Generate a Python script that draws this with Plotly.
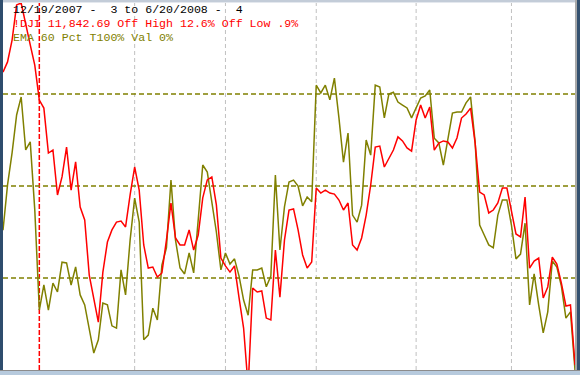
import pandas as pd
import plotly.graph_objects as go

# ---- data ----
holidays = ["2007-12-25", "2008-01-01", "2008-01-21", "2008-02-18", "2008-03-21", "2008-05-26"]
dates = [d for d in pd.bdate_range("2007-12-19", "2008-06-20") if d.strftime("%Y-%m-%d") not in holidays]

dji = [13225, 13273, 13376, 13542, 13551, 13447, 13353, 13258, 13093, 13055,
       12843, 12857, 12645, 12730, 12871, 12668, 12801, 12588, 12527, 12267,
       12163, 12045, 12281, 12423, 12480, 12517, 12522, 12494, 12645, 12777,
       12668, 12409, 12300, 12305, 12258, 12277, 12432, 12607, 12442, 12409,
       12409, 12480, 12385, 12456, 12631, 12716, 12730, 12598, 12347, 12310,
       12281, 12310, 12159, 12017, 11740, 12206, 12187, 12192, 12064, 12055,
       12385, 12163, 12432, 12574, 12579, 12480, 12362, 12300, 12329, 12678,
       12654, 12668, 12654, 12649, 12621, 12574, 12607, 12409, 12385, 12442,
       12550, 12692, 12871, 12876, 12777, 12819, 12857, 12919, 12900, 12867,
       12852, 12999, 13070, 13008, 13060, 12857, 12890, 12900, 12895, 12867,
       12914, 13008, 13027, 13055, 12890, 12659, 12645, 12560, 12574, 12607,
       12678, 12678, 12565, 12461, 12447, 12635, 12300, 12333, 12347, 12159,
       12211, 12352, 12319, 12229, 12121, 12126, 11842.69]

ema_pct = [38.0, 50.3, 59.0, 69.3, 74.2, 59.8, 62.0, 43.5, 16.3, 23.1,
           16.3, 23.6, 21.2, 29.3, 29.1, 23.1, 28.0, 20.4, 17.7, 11.4,
           4.6, 8.2, 18.2, 17.7, 12.0, 11.4, 27.2, 20.4, 35.3, 46.7,
           40.2, 8.2, 9.5, 16.8, 13.6, 28.5, 33.2, 51.6, 35.3, 27.7,
           26.1, 31.8, 26.4, 40.8, 55.7, 53.8, 46.2, 37.5, 27.2, 31.8,
           28.8, 30.2, 25.5, 19.0, 14.9, 27.2, 27.2, 27.7, 22.6, 25.5,
           53.0, 32.6, 44.3, 51.1, 51.6, 50.0, 44.6, 47.0, 45.7, 77.4,
           75.3, 77.4, 73.4, 79.3, 68.5, 56.5, 64.4, 42.1, 40.2, 44.8,
           62.5, 58.4, 77.4, 76.9, 68.5, 75.0, 75.5, 72.8, 72.0, 71.2,
           68.5, 71.2, 73.9, 74.5, 76.1, 63.0, 61.7, 55.7, 62.5, 69.8,
           70.1, 70.1, 72.6, 74.2, 62.0, 39.4, 36.7, 34.0, 33.2, 42.1,
           46.2, 46.2, 39.4, 30.2, 31.5, 39.9, 17.7, 26.1, 17.7, 10.1,
           15.8, 29.6, 28.0, 22.8, 14.1, 15.8, 0.0]

pct_levels = [25, 50, 75]
title_lines = ["12/19/2007 -  3 to 6/20/2008 -  4",
               "!DJI 11,842.69 Off High 12.6% Off Low .9%",
               "EMA 60 Pct T100% Val 0%"]

# ---- figure ----
W, H = 580, 375
ML, MR, MT, MB = 3, 5, 3, 5
PW, PH = W - ML - MR, H - MT - MB

x = list(range(len(dates)))
fig = go.Figure()
fig.add_trace(go.Scatter(x=x, y=ema_pct, mode="lines", yaxis="y",
                         line=dict(color="#808000", width=1.5), hoverinfo="skip"))
fig.add_trace(go.Scatter(x=x, y=dji, mode="lines", yaxis="y2",
                         line=dict(color="#ff0000", width=1.5), hoverinfo="skip"))

shapes = []
# month boundaries
for i in range(1, len(dates)):
    if dates[i].month != dates[i - 1].month:
        if dates[i].year != dates[i - 1].year:
            shapes.append(dict(type="line", xref="x", yref="paper", x0=i, x1=i, y0=0, y1=1,
                               line=dict(color="#ff0000", width=1.5, dash="5px,2px"), layer="below"))
        else:
            shapes.append(dict(type="line", xref="x", yref="paper", x0=i, x1=i, y0=0, y1=1,
                               line=dict(color="#c0c0c0", width=1, dash="4px,3px"), layer="below"))
for lv in pct_levels:
    shapes.append(dict(type="line", xref="paper", yref="y", x0=0, x1=1, y0=lv, y1=lv,
                       line=dict(color="#808000", width=1.5, dash="5px,3px"), layer="below"))

# window frame
fx = lambda px: (px - ML) / PW
fy = lambda py: 1 - (py - MT) / PH
frame = [
    (0, 0, 580, 2, "#c3ccd8"),
    (0, 2, 580, 3, "#e4e8ee"),
    (0, 0, 3, 375, "#2f4d6d"),
    (575, 0, 577, 375, "#a9a9a9"),
    (577, 0, 580, 375, "#34516f"),
    (0, 370, 580, 371, "#8c8c8c"),
    (0, 371, 580, 375, "#b7cadd"),
]
for x0, y0, x1, y1, c in frame:
    shapes.append(dict(type="rect", xref="paper", yref="paper",
                       x0=fx(x0), x1=fx(x1), y0=fy(y1), y1=fy(y0),
                       fillcolor=c, line=dict(width=0), layer="above"))

text_colors = ["#000000", "#ff0000", "#808000"]
text_y = [9.5, 23.5, 37.0]
annotations = []
for t, c, ty in zip(title_lines, text_colors, text_y):
    annotations.append(dict(text=t, xref="paper", yref="paper", x=fx(11), y=fy(ty),
                            xanchor="left", yanchor="middle", showarrow=False,
                            font=dict(family="Liberation Mono, Courier New, monospace", size=11.6, color=c)))

fig.update_layout(
    width=W, height=H,
    margin=dict(l=ML, r=MR, t=MT, b=MB, pad=0),
    paper_bgcolor="white", plot_bgcolor="white",
    showlegend=False,
    xaxis=dict(range=[0, len(dates) - 1], visible=False, showgrid=False, zeroline=False),
    yaxis=dict(range=[0, (370 - 3) / 3.68], visible=False, showgrid=False, zeroline=False),
    yaxis2=dict(range=[11819, 13551], overlaying="y", visible=False, showgrid=False, zeroline=False),
    shapes=shapes,
    annotations=annotations,
)

fig.write_html("out.html")
